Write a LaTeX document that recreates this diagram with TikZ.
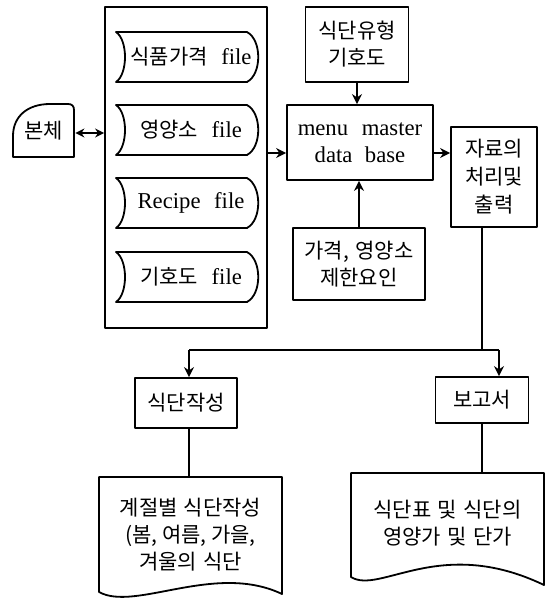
\documentclass[tikz,border=0pt]{standalone}
\usepackage{fontspec}
\setmainfont{Liberation Serif}[Scale=1.08]
\newfontfamily\kr{Noto Sans CJK KR}
\usetikzlibrary{arrows.meta}
\newcommand\wsp{\hspace{0.3em}}
\begin{document}
\begin{tikzpicture}[x=0.5pt,y=-0.5pt, line width=0.9pt, line join=round,
  every node/.style={font=\fontsize{10.5}{13.5}\selectfont, align=center, inner sep=0pt},
  krtext/.style={font=\fontsize{10.5}{13.5}\selectfont\kr},
  bx/.style={draw, rectangle},
  arr/.style={-{Stealth[length=5pt,width=5pt]}},
  darr/.style={{Stealth[length=4.5pt,width=4.5pt]}-{Stealth[length=4.5pt,width=4.5pt]}}]
\useasboundingbox (0,0) rectangle (550,601);

% 본체
\node (bonche) at (44,131) [krtext, minimum width=30.5pt, minimum height=26.5pt] {본체};
\draw (74,157) -- (13,157) -- (13,136) .. controls (13,116) and (28,104) .. (50,104) -- (68,104) .. controls (72,104) and (74,106) .. (74,110) -- cycle;

% file container
\node (cont) at (186,167.5) [bx, minimum width=81pt, minimum height=160.5pt] {};
\foreach \t in {32,105,178,252}{
  \draw[shift={(0,\t)}] (116,0) -- (247,0) .. controls (262,8) and (262,42) .. (247,50) -- (116,50) .. controls (128,42) and (128,8) .. (116,0) -- cycle;
}
\node (f1) at (191,57) {{\kr 식품가격}\hspace{0.35em} file};
\node (f2) at (191,130) {{\kr 영양소}\hspace{0.35em} file};
\node (f3) at (191,203) {Recipe\hspace{0.35em} file};
\node (f4) at (191,277) {{\kr 기호도}\hspace{0.35em} file};

% right column
\node (sty) at (357,44.5) [bx, krtext, minimum width=51.5pt, minimum height=37.5pt] {식단유형\\기호도};
\node (menu) at (360,142.5) [bx, minimum width=73pt, minimum height=37.5pt] {menu\hspace{0.35em} master\\data\hspace{0.3em} base};
\node (jaryo) at (494,177) [bx, minimum width=43pt, minimum height=50pt, font=\fontsize{10.5}{14}\selectfont\kr] {자료의\\처리및\\출력};
\node (limit) at (359,264) [bx, krtext, minimum width=66pt, minimum height=36pt] {가격,\wsp 영양소\\제한요인};

% lower part
\node (sikdan) at (186,403) [bx, krtext, minimum width=51pt, minimum height=25pt] {식단작성};
\node (bogo) at (482,400) [bx, krtext, minimum width=46.5pt, minimum height=23pt] {보고서};
\node (doc1) at (190.5,535) [krtext, minimum width=91.5pt, minimum height=58pt] {계절별\wsp 식단작성\\(봄, 여름, 가을,\\겨울의\wsp 식단};
\node (doc2) at (447.5,523) [krtext, minimum width=96.5pt, minimum height=50pt] {식단표\wsp 및\wsp 식단의\\영양가\wsp 및\wsp 단가};
\draw (99,592) -- (99,477) -- (282,477) -- (282,594) .. controls (215,562) and (135,612) .. (99,592) -- cycle;
\draw (351,577) -- (351,473) -- (544,473) -- (544,585) .. controls (440,535) and (380,595) .. (351,577) -- cycle;

% connectors
\coordinate (by) at (0,133);
\coordinate (ay) at (0,153);
\draw[darr] (bonche.east |- by) -- (cont.west |- by);
\draw[arr] (cont.east |- ay) -- (menu.west |- ay);
\draw[arr] (menu.east |- ay) -- (jaryo.west |- ay);
\draw[arr] (sty.south) -- (sty.south |- menu.north);
\draw[arr] (limit.north) -- (limit.north |- menu.south);

\coordinate (j) at (482,350);
\coordinate (jl) at (189,350);
\coordinate (jr) at (499,350);
\draw (jaryo.south -| j) -- (j);
\draw (jl) -- (jr);
\draw[arr] (jl) -- (sikdan.north -| jl);
\draw[arr] (jr) -- (bogo.north -| jr);
\draw (sikdan.south -| jl) -- (jl |- doc1.north);
\draw (bogo.south) -- (bogo.south |- doc2.north);
\end{tikzpicture}
\end{document}
